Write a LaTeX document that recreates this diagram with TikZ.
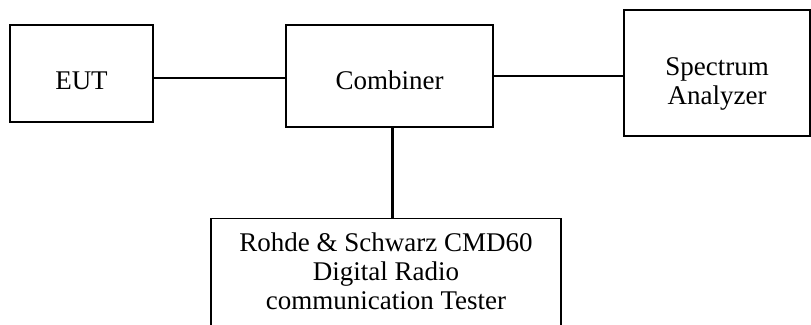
\documentclass[tikz,border=0pt]{standalone}
\usepackage{fontspec}
\setmainfont{Liberation Serif}
\usetikzlibrary{positioning,shapes,arrows}

\begin{document}
\begin{tikzpicture}
            [x=1pt,y=-1pt,every node/.style={draw, rectangle, line width=1.3pt, inner sep=0pt, align=center, font=\fontsize{27}{29}\selectfont}]
          \clip (0,0) rectangle (811,324);

          \node[minimum width=143pt, minimum height=97pt, text height=31pt, text depth=0pt] (eut) at (81.5,73.5) {EUT};
          \node[minimum width=207pt, minimum height=102pt, text height=26pt, text depth=0pt] (comb) at (389.5,76) {Combiner};
          \node[minimum width=186pt, minimum height=126pt, text height=62pt, text depth=0pt] (sa) at (717,73) {Spectrum\\Analyzer};
          \node[minimum width=350pt, minimum height=110pt, text height=72pt, text depth=0pt, anchor=north] (cmd) at (386,218)
            {Rohde \& Schwarz CMD60\\Digital Radio\\communication Tester};

          \foreach \from/\to/\dy in {eut/comb/-4.5, comb/sa/0}
            \draw[line width=2.2pt] ([yshift=\dy pt]\from.east) -- ([yshift=\dy pt]\from.east -| \to.west);
          \draw[line width=2.2pt] ([xshift=3pt]comb.south) -- ([xshift=3pt]comb.south |- cmd.north);
        \end{tikzpicture}
\end{document}
